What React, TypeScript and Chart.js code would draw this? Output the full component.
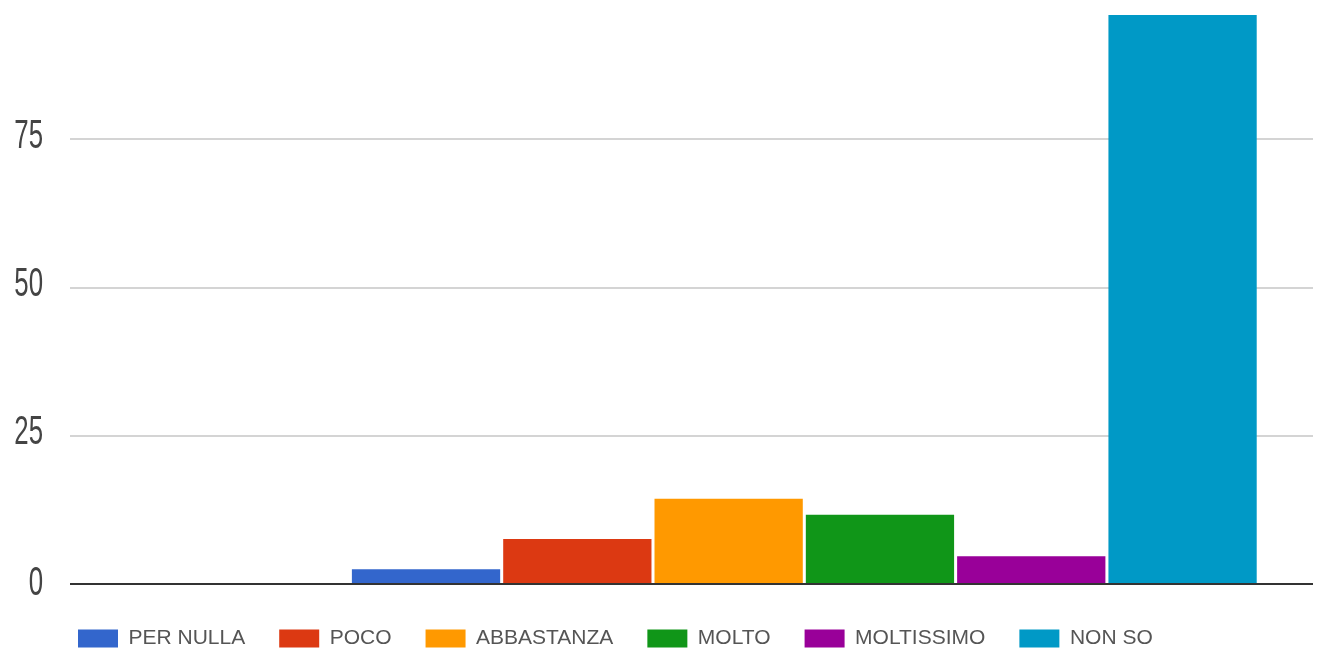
import React, { useEffect, useRef } from "react";
import { Chart, registerables } from "chart.js";

Chart.register(...registerables);

// ---- data ----
const categories = ["PER NULLA", "POCO", "ABBASTANZA", "MOLTO", "MOLTISSIMO", "NON SO"];
const values = [2.5, 7.6, 14.4, 11.7, 4.7, 96];
const colors = ["#3366cc", "#dc3912", "#ff9900", "#109618", "#990099", "#0099c6"];
const yTicks = [0, 25, 50, 75];
const yMax = 96;

const legendShift = {
  id: "legendShift",
  afterLayout(chart: any) {
    if (chart.legend) chart.legend.left += 44;
  },
};

// condensed y tick labels, positioned by the y scale
const narrowTicks = {
  id: "narrowTicks",
  afterDraw(chart: any) {
    const scale = chart.scales.y;
    const ctx = chart.ctx;
    ctx.save();
    ctx.fillStyle = "#444";
    ctx.font = "41px 'Liberation Sans', Arial, sans-serif";
    ctx.textAlign = "right";
    ctx.textBaseline = "middle";
    scale.ticks.forEach((t: any) => {
      const y = scale.getPixelForValue(t.value) - (t.value === 0 ? 0 : 3);
      ctx.save();
      ctx.translate(43, y);
      ctx.scale(0.63, 1);
      ctx.fillText(String(t.value), 0, 0);
      ctx.restore();
    });
    ctx.restore();
  },
};

export default function App() {
  const ref = useRef<HTMLCanvasElement | null>(null);

  useEffect(() => {
    if (!ref.current) return;
    const datasets = categories.map((name, i) => ({
      label: name,
      data: [{ x: i, y: values[i] }],
      backgroundColor: colors[i],
      borderWidth: 0,
      grouped: false,
      categoryPercentage: 1,
      barPercentage: 0.98,
    }));

    const chart = new Chart(ref.current, {
      type: "bar",
      data: { datasets: datasets as any },
      plugins: [legendShift, narrowTicks],
      options: {
        animation: false,
        responsive: false,
        maintainAspectRatio: false,
        layout: { padding: { left: 0, right: 11, top: 15, bottom: 0 } },
        plugins: {
          tooltip: { enabled: false },
          legend: {
            position: "bottom",
            align: "start",
            labels: {
              boxWidth: 40,
              boxHeight: 18,
              padding: 34,
              color: "#555",
              font: { family: "'Liberation Sans', Arial, sans-serif", size: 21 },
            },
          },
        },
        scales: {
          x: {
            type: "linear",
            min: -2.353,
            max: 5.862,
            offset: false,
            display: true,
            grid: { display: false },
            border: { display: false },
            ticks: { display: false, stepSize: 1, includeBounds: false },
            afterFit: (s: any) => {
              s.height = 10;
              s.paddingLeft = 0;
              s.paddingRight = 0;
            },
          },
          y: {
            min: 0,
            max: yMax,
            border: { display: false },
            grid: {
              drawTicks: false,
              lineWidth: 2,
              color: (ctx: any) => (ctx.tick && ctx.tick.value === 0 ? "#333333" : "#d4d4d4"),
            },
            ticks: { display: false },
            afterBuildTicks: (s: any) => {
              s.ticks = yTicks.map((v) => ({ value: v }));
            },
            afterFit: (s: any) => {
              s.width = 70;
              s.paddingTop = 0;
              s.paddingBottom = 0;
            },
          },
        },
      } as any,
    });
    return () => chart.destroy();
  }, []);

  return (
    <div
      style={{
        position: "fixed",
        left: 0,
        top: 0,
        width: 1324,
        height: 648,
        overflow: "hidden",
        background: "#fff",
      }}
    >
      <canvas ref={ref} width={1324} height={659} style={{ display: "block" }} />
    </div>
  );
}
